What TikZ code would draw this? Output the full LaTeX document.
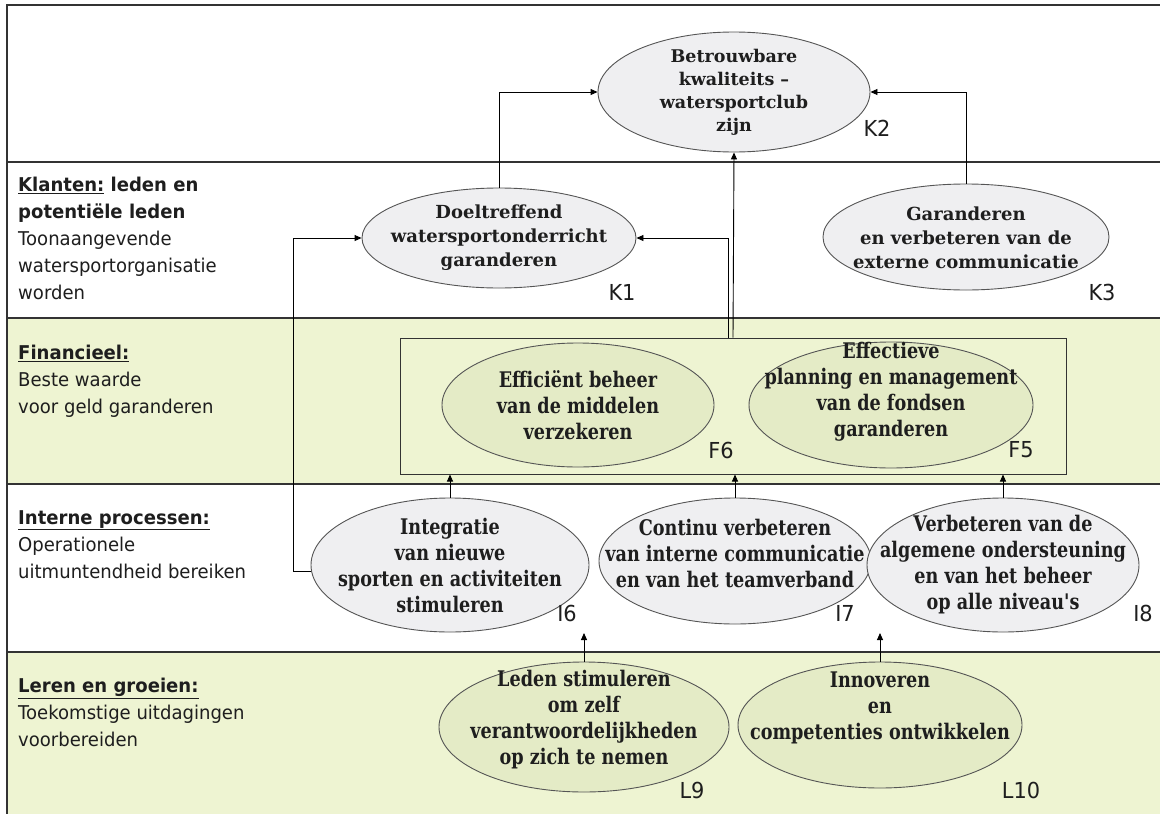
\documentclass[tikz,border=0pt]{standalone}
\usepackage{fontspec}
\setmainfont{DejaVu Sans}
\newfontfamily\bandfont[FakeStretch=0.95]{DejaVu Sans}
\newfontfamily\condfont[FakeStretch=0.82]{DejaVu Serif}
\newfontfamily\wideserif{DejaVu Serif}
\usetikzlibrary{shapes.geometric,arrows.meta}
\definecolor{bandgreen}{HTML}{EEF4D2}
\definecolor{ellgreen}{HTML}{E4EBC6}
\definecolor{ellgray}{HTML}{EFEFF1}
\definecolor{frameclr}{HTML}{333333}
\definecolor{ellline}{HTML}{555555}
\definecolor{txtclr}{HTML}{1E1E1E}
\tikzset{
  frameline/.style={draw=frameclr, line width=1.3pt},
  ell/.style={ellipse, draw=ellline, line width=0.9pt, inner sep=0pt},
  ellK/.style={ell, fill=ellgray},
  ellG/.style={ell, fill=ellgreen},
  eltxt/.style={align=center, text=txtclr, inner sep=0pt, font=\condfont\bfseries\fontsize{21.5}{26}\selectfont},
  ktxt/.style={align=center, text=txtclr, inner sep=0pt, font=\wideserif\bfseries\fontsize{18}{24}\selectfont},
  bandtxt/.style={anchor=north west, align=left, text=txtclr, inner sep=0pt, font=\bandfont\fontsize{19}{27}\selectfont},
  lab/.style={text=txtclr, inner sep=0pt, font=\bandfont\fontsize{22}{22}\selectfont},
  arr/.style={draw=black, line width=0.9pt, -{Triangle[length=7pt,width=6pt]}},
}
\begin{document}
\begin{tikzpicture}[x=1pt,y=-1pt]
\useasboundingbox (0,0) rectangle (1160,814);
\fill[white] (0,0) rectangle (1160,814);
% bands
\fill[bandgreen] (7,318) rectangle (1160,484);
\fill[bandgreen] (7,652) rectangle (1160,814);
\draw[frameline] (1160,5) -- (7,5) -- (7,814);
\draw[frameline] (7,162) -- (1160,162);
\draw[frameline] (7,318) -- (1160,318);
\draw[frameline] (7,484) -- (1160,484);
\draw[frameline] (7,652) -- (1160,652);

% band texts
\node[bandtxt] (tK) at (18,177) {\textbf{\underline{Klanten:} leden en}\\\textbf{potentiële leden}\\Toonaangevende\\watersportorganisatie\\worden};
\node[bandtxt] (tF) at (18,345) {\textbf{\underline{Financieel:}}\\Beste waarde\\voor geld garanderen};
\node[bandtxt] (tI) at (18,510) {\textbf{\underline{Interne processen:}}\\Operationele\\uitmuntendheid bereiken};
\node[bandtxt] (tL) at (18,678) {\textbf{\underline{Leren en groeien:}}\\Toekomstige uitdagingen\\voorbereiden};

% K row
\node[ellK, minimum width=272pt, minimum height=120pt] (K2) at (734,92) {};
\node[ktxt, font=\wideserif\bfseries\fontsize{17.5}{23}\selectfont] (K2t) at (734,92) {Betrouwbare\\kwaliteits –\\watersportclub\\zijn};
\node[lab] (K2l) at (877,128) {K2};

\node[ellK, minimum width=274pt, minimum height=100pt] (K1) at (499,238) {};
\node[ktxt] (K1t) at (499,238) {Doeltreffend\\watersportonderricht\\garanderen};
\node[lab] (K1l) at (622,292) {K1};

\node[ellK, minimum width=286pt, minimum height=106pt] (K3) at (966,237) {};
\node[ktxt] (K3t) at (966,238) {Garanderen\\en verbeteren van de\\externe communicatie};
\node[lab] (K3l) at (1102,292) {K3};

% F row
\node[draw=frameclr, line width=1pt, fill=bandgreen, minimum width=666pt, minimum height=136pt, inner sep=0pt] (Fbox) at (733,406) {};
\node[ellG, minimum width=272pt, minimum height=124pt] (F6) at (578,405) {};
\node[eltxt] (F6t) at (578,405) {Efficiënt beheer\\van de middelen\\verzekeren};
\node[lab] (F6l) at (721,450) {F6};
\node[ellG, minimum width=284pt, minimum height=126pt] (F5) at (891,405) {};
\node[eltxt] (F5t) at (891,392) {Effectieve\\planning en management\\van de fondsen\\garanderen};
\node[lab] (F5l) at (1021,450) {F5};

% I row
\node[ellK, minimum width=278pt, minimum height=134pt] (I6) at (450,565) {};
\node[eltxt] (I6t) at (450,565) {Integratie\\van nieuwe\\sporten en activiteiten\\stimuleren};
\node[lab] (I6l) at (567,613) {I6};
\node[ellK, minimum width=272pt, minimum height=126pt] (I7) at (735,561) {};
\node[eltxt] (I7t) at (735,553) {Continu verbeteren\\van interne communicatie\\en van het teamverband};
\node[lab] (I7l) at (845,613) {I7};
\node[ellK, minimum width=272pt, minimum height=134pt] (I8) at (1003,565) {};
\node[eltxt] (I8t) at (1003,565) {Verbeteren van de\\algemene ondersteuning\\en van het beheer\\op alle niveau's};
\node[lab] (I8l) at (1143,613) {I8};

% L row
\node[ellG, minimum width=290pt, minimum height=130pt] (L9) at (584,727) {};
\node[eltxt] (L9t) at (584,720) {Leden stimuleren\\om zelf\\verantwoordelijkheden\\op zich te nemen};
\node[lab] (L9l) at (692,790) {L9};
\node[ellG, minimum width=284pt, minimum height=126pt] (L10) at (880,725) {};
\node[eltxt] (L10t) at (880,708) {Innoveren\\en\\competenties ontwikkelen};
\node[lab] (L10l) at (1021,790) {L10};

% connectors
\coordinate (lb) at (293,400);
\coordinate (tipL) at (0,633);
\draw[arr] (K1.north) |- (K2.west);
\draw[arr] (K3.north) |- (K2.east);
\draw[arr] (Fbox.north) -- (K2.south);
\draw[arr] ([xshift=-5pt]Fbox.north) |- (K1.east);
\draw[arr] ([yshift=-6pt]I6.west) -- ([yshift=-6pt]I6.west -| lb) |- (K1.west);
\draw[arr] (I6.north) -- (I6.north |- Fbox.south);
\draw[arr] (I7.north) -- (I7.north |- Fbox.south);
\draw[arr] (I8.north) -- (I8.north |- Fbox.south);
\draw[arr] (L9.north) -- (L9.north |- tipL);
\draw[arr] (L10.north) -- (L10.north |- tipL);
\end{tikzpicture}
\end{document}
